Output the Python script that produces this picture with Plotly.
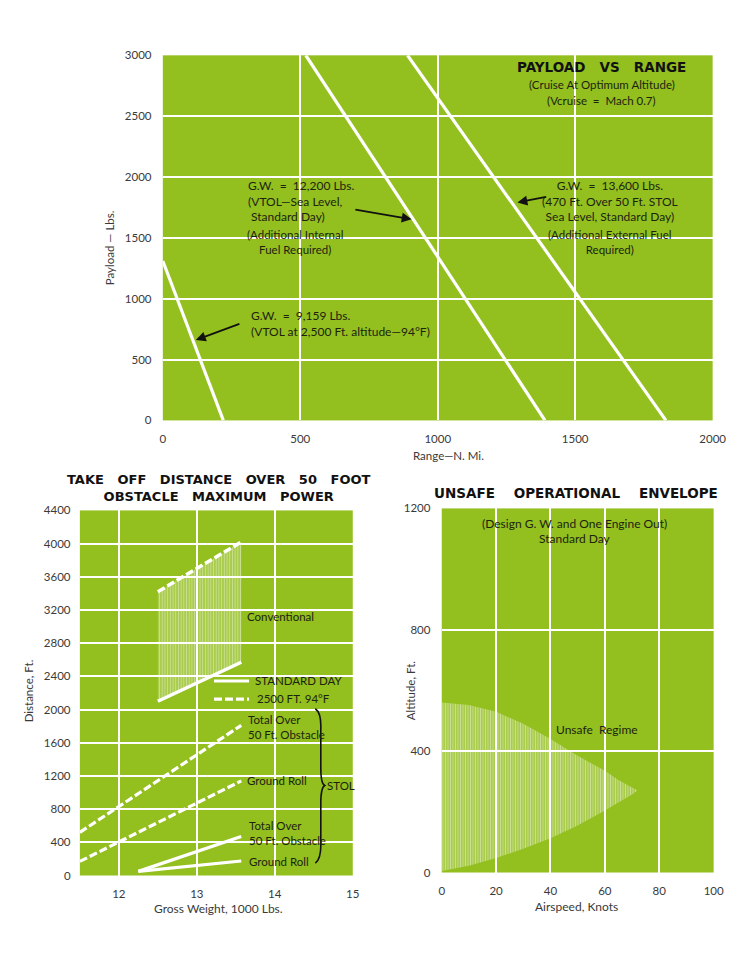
import plotly.graph_objects as go

# ---- payload vs range (top) ----
range_9159 = [0, 220]
payload_9159 = [1310, 0]
range_12200 = [520, 1390]
payload_12200 = [3000, 0]
range_13600 = [890, 1830]
payload_13600 = [3000, 0]
range_ticks = [0, 500, 1000, 1500, 2000]
payload_ticks = [0, 500, 1000, 1500, 2000, 2500, 3000]

# ---- take off distance (bottom left) ----
conv_gw = [12.5, 13.57]
conv_std = [2100, 2570]
conv_hot = [3420, 4020]
stol_gw_hot = [11.5, 13.57]
stol_total_hot = [520, 1810]
stol_roll_hot = [170, 1140]
stol_gw_std = [12.25, 13.57]
stol_total_std = [50, 470]
stol_roll_std = [50, 175]
key_gw = [13.22, 13.67]
key_std = [2344, 2344]
key_hot = [2127, 2127]
gw_ticks = [12, 13, 14, 15]
dist_ticks = list(range(0, 4401, 400))

# ---- unsafe envelope (bottom right) ----
airspeed = [0, 10, 20, 30, 40, 50, 60, 65, 70, 72]
alt_upper = [560, 552, 530, 490, 440, 385, 335, 305, 280, 270]
alt_lower = [5, 22, 48, 78, 113, 155, 204, 230, 257, 270]
speed_ticks = [0, 20, 40, 60, 80, 100]
alt_ticks = [0, 400, 800, 1200]

GREEN = '#93bf1f'
TXT = '#1c2410'
TICK = '#3a3a3a'
FONT = 'Lato'
HEAD = 'DejaVu Sans'
# page body keeps its 8px margin, so the figure is 16px smaller than the window
W, H = 728, 944


# positions measured on the screenshot -> paper coords
def PX(x):
    return ((x - 2.3) / 0.977 - 8) / W


def PY(y):
    return 1 - ((y - 6.8) / 0.986 - 8) / H


fig = go.Figure()


def line(x, y, xa, ya, dash='solid', width=3.2, **kw):
    fig.add_trace(go.Scatter(x=x, y=y, xaxis=xa, yaxis=ya, mode='lines',
                             line=dict(color='white', width=width, dash=dash),
                             hoverinfo='skip', showlegend=False, **kw))


# top
line(range_9159, payload_9159, 'x', 'y')
line(range_12200, payload_12200, 'x', 'y')
line(range_13600, payload_13600, 'x', 'y')

# bottom left
DASH = '8px,3px'
line(conv_gw, conv_std, 'x2', 'y2', width=3.5)
line(conv_gw, conv_hot, 'x2', 'y2', dash=DASH, width=3.5, fill='tonexty',
     fillcolor='rgba(0,0,0,0)',
     fillpattern=dict(shape='|', fgcolor='white', bgcolor='rgba(0,0,0,0)',
                      size=2.7, solidity=0.6))
line(stol_gw_hot, stol_total_hot, 'x2', 'y2', dash=DASH)
line(stol_gw_hot, stol_roll_hot, 'x2', 'y2', dash=DASH)
line(stol_gw_std, stol_total_std, 'x2', 'y2')
line(stol_gw_std, stol_roll_std, 'x2', 'y2')
line(key_gw, key_std, 'x2', 'y2')
line(key_gw, key_hot, 'x2', 'y2', dash=DASH)

# bottom right
env_x = airspeed + airspeed[::-1]
env_y = alt_upper + alt_lower[::-1]
fig.add_trace(go.Scatter(x=env_x, y=env_y, xaxis='x3', yaxis='y3', mode='lines',
                         line=dict(width=0), fill='toself',
                         fillcolor='rgba(255,255,255,0.25)',
                         fillpattern=dict(shape='|', fgcolor='white',
                                          bgcolor='rgba(0,0,0,0)',
                                          size=2.5, solidity=0.6),
                         hoverinfo='skip', showlegend=False))


def axis(domain, rng, ticks, grid, anchor, standoff):
    return dict(domain=domain, range=rng, tickvals=ticks, showgrid=False,
                zeroline=False, showline=False, anchor=anchor,
                ticks='outside', ticklen=standoff, tickcolor='rgba(0,0,0,0)',
                tickfont=dict(family=FONT, size=11.5, color=TICK),
                minor=dict(tickvals=grid, showgrid=True, gridcolor='white',
                           gridwidth=1.6, ticks=''),
                fixedrange=True)


fig.update_layout(
    width=W, height=H, margin=dict(l=0, r=0, t=0, b=0),
    paper_bgcolor='white', plot_bgcolor=GREEN, showlegend=False,
    xaxis=axis([PX(162), PX(712)], [0, 2000], range_ticks, [500, 1000, 1500], 'y', 8),
    yaxis=axis([PY(420), PY(55)], [0, 3000], payload_ticks,
               [500, 1000, 1500, 2000, 2500], 'x', 8),
    xaxis2=axis([PX(79), PX(352)], [11.5, 15], gw_ticks, [12, 13, 14], 'y2', 8),
    yaxis2=axis([PY(875), PY(510)], [0, 4400], dist_ticks,
                dist_ticks[1:-1], 'x2', 6),
    xaxis3=axis([PX(441), PX(713)], [0, 100], speed_ticks, [20, 40, 60, 80], 'y3', 8),
    yaxis3=axis([PY(872), PY(508)], [0, 1200], alt_ticks, [400, 800], 'x3', 8),
)

ann = []


def text(x, y, s, xref, yref, xanchor='left', yanchor='middle', align='left',
         size=11, family=FONT, color=TXT, angle=0):
    ann.append(dict(x=x, y=y, text=s, xref=xref, yref=yref, showarrow=False,
                    xanchor=xanchor, yanchor=yanchor, align=align,
                    textangle=angle, font=dict(family=family, size=size, color=color)))


def arrow(x, y, ax, ay, xref, yref):
    ann.append(dict(x=x, y=y, ax=ax, ay=ay, xref=xref, yref=yref, axref=xref,
                    ayref=yref, text='', showarrow=True, arrowhead=2,
                    arrowsize=1.1, arrowwidth=1.8, arrowcolor='#111'))


# top panel text
text(1596, 2900, '<b>PAYLOAD   VS   RANGE</b>', 'x', 'y', 'center', size=13.5, family=HEAD, color='#111')
text(1596, 2761, '(Cruise At Optimum Altitude)', 'x', 'y', 'center', size=11.5)
text(1596, 2629, '(Vcruise  =  Mach 0.7)', 'x', 'y', 'center', size=11.5)
text(302, 1800, 'G.W.  =  12,200 Lbs.<br>(VTOL—Sea Level,<br> Standard Day)', 'x', 'y', size=12)
text(480, 1465, '(Additional Internal<br>Fuel Required)', 'x', 'y', 'center', align='center', size=11.5)
text(1625, 1800, 'G.W.  =  13,600 Lbs.<br>(470 Ft. Over 50 Ft. STOL<br>Sea Level, Standard Day)',
     'x', 'y', 'center', align='center', size=12)
text(1625, 1465, '(Additional External Fuel<br>Required)', 'x', 'y', 'center', align='center', size=11.5)
text(313, 794, 'G.W.  =  9,159 Lbs.<br>(VTOL at 2,500 Ft. altitude—94°F)', 'x', 'y', size=12)
arrow(120, 660, 284, 797, 'x', 'y')
arrow(905, 1652, 695, 1734, 'x', 'y')
arrow(1290, 1791, 1400, 1840, 'x', 'y')
text(PX(109), PY(247), 'Payload — Lbs.', 'paper', 'paper', 'center', angle=-90, size=11.5, color=TICK)
text(PX(448), PY(455), 'Range—N. Mi.', 'paper', 'paper', 'center', size=11.5, color=TICK)

# bottom left text
text(PX(218), PY(488), '<b>TAKE   OFF   DISTANCE   OVER   50   FOOT<br>OBSTACLE   MAXIMUM   POWER</b>',
     'paper', 'paper', 'center', align='center', size=13, family=HEAD, color='#111')
text(13.62, 3120, 'Conventional', 'x2', 'y2', size=11.5)
text(13.72, 2350, 'STANDARD DAY', 'x2', 'y2', size=11.5)
text(13.74, 2134, '2500 FT. 94°F', 'x2', 'y2', size=11.5)
text(13.63, 1790, 'Total Over<br>50 Ft. Obstacle', 'x2', 'y2', size=11.5)
text(13.62, 1145, 'Ground Roll', 'x2', 'y2', size=11.5)
text(13.65, 518, 'Total Over<br>50 Ft. Obstacle', 'x2', 'y2', size=11.5)
text(13.65, 170, 'Ground Roll', 'x2', 'y2', size=11.5)
text(14.64, 1085, 'STOL', 'x2', 'y2', size=11.5)
text(PX(28), PY(690), 'Distance, Ft.', 'paper', 'paper', 'center', angle=-90, size=11.5, color=TICK)
text(PX(218), PY(908), 'Gross Weight, 1000 Lbs.', 'paper', 'paper', 'center', size=12, color=TICK)

# bottom right text
text(PX(575), PY(493), '<b>UNSAFE    OPERATIONAL    ENVELOPE</b>', 'paper', 'paper', 'center',
     size=13.5, family=HEAD, color='#111')
text(49, 1150, '(Design G. W. and One Engine Out)', 'x3', 'y3', 'center', size=12)
text(49, 1102, 'Standard Day', 'x3', 'y3', 'center', size=12)
text(57, 471, 'Unsafe  Regime', 'x3', 'y3', 'center', size=12)
text(PX(410), PY(690), 'Altitude, Ft.', 'paper', 'paper', 'center', angle=-90, size=11.5, color=TICK)
text(PX(576), PY(906), 'Airspeed, Knots', 'paper', 'paper', 'center', size=12, color=TICK)

fig.update_layout(annotations=ann)

# STOL brace
fig.add_shape(type='path', xref='x2', yref='y2',
              path='M 14.52,2010 Q 14.6,1960 14.59,1750 L 14.59,1300 '
                   'Q 14.59,1110 14.64,1085 Q 14.59,1060 14.59,870 '
                   'L 14.59,420 Q 14.6,200 14.52,150',
              line=dict(color='#111', width=1.6))

fig.write_html('out.html')
